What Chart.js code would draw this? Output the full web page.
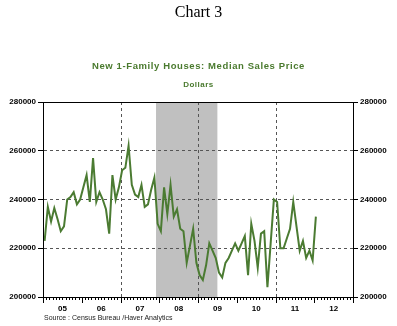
<!DOCTYPE html>
<html lang="en">
<head>
    <meta charset="UTF-8">
    <title>Chart 3</title>
    <script src="https://cdn.jsdelivr.net/npm/chart.js@4/dist/chart.umd.min.js"></script>
    <style>
        body {
            margin: 0;
            background: #fff;
            width: 397px;
            height: 326px;
            overflow: hidden;
            position: relative;
        }
        #wrap { position: absolute; left: 0; top: 0; width: 397px; height: 326px; }
        .txt { position: absolute; left: 0; width: 397px; text-align: center; white-space: nowrap; }
        .title { top: 3px; font: 16px "Liberation Serif", serif; color: #000; }
        .sub { top: 60px; font: bold 9.5px "Liberation Sans", Arial, sans-serif; color: #4a7a2e; letter-spacing: 0.6px; }
        .unit { top: 80px; font: bold 8px "Liberation Sans", Arial, sans-serif; color: #4a7a2e; letter-spacing: 0.5px; }
        .source { top: 314px; left: 44px; width: auto; text-align: left; font: 7px "Liberation Sans", Arial, sans-serif; color: #222; }
    </style>
</head>
<body>
    <div id="wrap"><canvas id="chart" width="397" height="326"></canvas></div>
    <div class="txt title">Chart 3</div>
    <div class="txt sub">New 1-Family Houses: Median Sales Price</div>
    <div class="txt unit">Dollars</div>
    <div class="txt source">Source : Census Bureau /Haver Analytics</div>

    <script>
        // monthly data, Jan 2005 .. Jan 2012
        const firstYear = 2005;
        const medianPrice = [
            223000, 237000, 231000, 236500, 232000, 227000, 229000, 240000, 241000, 243000, 238000, 240000,
            245000, 250000, 239000, 257000, 239000, 243000, 240000, 236000, 226000, 250000, 240000, 245000,
            252000, 253000, 262000, 246000, 242000, 241000, 246000, 237000, 238000, 244000, 249000, 230000,
            227000, 245000, 234000, 246000, 233000, 236000, 228000, 227000, 214000, 221000, 228000, 214000,
            209000, 207000, 213000, 222000, 219000, 216000, 210000, 208000, 214000, 216000, 219000, 222000,
            219000, 222000, 225000, 209000, 230000, 223000, 212000, 226000, 227000, 204000, 222000, 240000,
            239000, 220000, 220000, 224000, 228000, 239000, 229000, 219000, 223000, 216000, 219000, 215000,
            233000
        ];
        const yearLabels = ['05', '06', '07', '08', '09', '10', '11', '12'];
        const yTicks = [200000, 220000, 240000, 260000, 280000];
        const recession = [2007 + 11 / 12, 2009 + 6 / 12];
        const gridYears = [2007, 2009, 2011];

        const points = medianPrice.map((v, i) => ({ x: firstYear + (i + 0.5) / 12, y: v }));

        const tickFont = { family: 'Liberation Sans', size: 8, weight: 'bold' };

        function yAxis(pos) {
            return {
                position: pos,
                min: yTicks[0],
                max: yTicks[yTicks.length - 1],
                afterBuildTicks: s => { s.ticks = yTicks.map(v => ({ value: v })); },
                afterFit: s => { s.width = pos === 'left' ? 43 : 44; },
                ticks: { color: '#000', font: tickFont, padding: 2, callback: v => String(v) },
                grid: {
                    drawOnChartArea: pos === 'left',
                    color: c => (c.tick && c.tick.value > yTicks[0] && c.tick.value < yTicks[yTicks.length - 1]) ? '#555' : 'rgba(0,0,0,0)',
                    tickColor: '#000',
                    tickLength: 5
                },
                border: { display: true, color: '#000', dash: [3, 3] }
            };
        }

        const framePlugin = {
            id: 'framePlugin',
            beforeDraw(chart) {
                const { ctx, chartArea: a, scales: { x } } = chart;
                const x0 = x.getPixelForValue(recession[0]);
                const x1 = x.getPixelForValue(recession[1]);
                ctx.save();
                ctx.fillStyle = '#c0c0c0';
                ctx.fillRect(x0, a.top, x1 - x0, a.bottom - a.top);
                ctx.restore();
            },
            beforeDatasetsDraw(chart) {
                const { ctx, chartArea: a, scales: { x } } = chart;
                ctx.save();
                ctx.strokeStyle = '#555';
                ctx.lineWidth = 1;
                ctx.setLineDash([3, 3]);
                gridYears.forEach(yr => {
                    const px = Math.round(x.getPixelForValue(yr)) + 0.5;
                    ctx.beginPath();
                    ctx.moveTo(px, a.top);
                    ctx.lineTo(px, a.bottom);
                    ctx.stroke();
                });
                ctx.restore();
            },
            afterDraw(chart) {
                const { ctx, chartArea: a, scales: { x } } = chart;
                ctx.save();
                ctx.strokeStyle = '#000';
                ctx.lineWidth = 1;
                ctx.strokeRect(Math.round(a.left) + 0.5, Math.round(a.top) + 0.5,
                    Math.round(a.right - a.left), Math.round(a.bottom - a.top));
                // month / year ticks along the bottom
                const nMonths = yearLabels.length * 12;
                for (let m = 0; m <= nMonths; m++) {
                    const px = Math.round(x.getPixelForValue(firstYear + m / 12)) + 0.5;
                    const len = m % 12 === 0 ? 6 : 3;
                    ctx.beginPath();
                    ctx.moveTo(px, Math.round(a.bottom));
                    ctx.lineTo(px, Math.round(a.bottom) + len);
                    ctx.stroke();
                }
                ctx.restore();
            }
        };

        new Chart(document.getElementById('chart'), {
            type: 'line',
            data: {
                datasets: [{
                    data: points,
                    borderColor: '#4b7b32',
                    borderWidth: 2,
                    pointRadius: 0,
                    tension: 0,
                    yAxisID: 'y'
                }]
            },
            options: {
                responsive: false,
                animation: false,
                layout: { padding: { top: 102, left: 0, right: 0, bottom: 0 } },
                plugins: { legend: { display: false }, tooltip: { enabled: false } },
                scales: {
                    x: {
                        type: 'linear',
                        min: firstYear,
                        max: firstYear + yearLabels.length,
                        afterBuildTicks: s => { s.ticks = yearLabels.map((l, i) => ({ value: firstYear + i + 0.5 })); },
                        afterFit: s => { s.height = 29; },
                        ticks: {
                            color: '#000',
                            font: tickFont,
                            padding: 7,
                            maxRotation: 0,
                            autoSkip: false,
                            callback: (v, i) => yearLabels[i]
                        },
                        grid: { display: false, drawTicks: false },
                        border: { display: false }
                    },
                    y: yAxis('left'),
                    y2: yAxis('right')
                }
            },
            plugins: [framePlugin]
        });
    </script>
</body>
</html>
